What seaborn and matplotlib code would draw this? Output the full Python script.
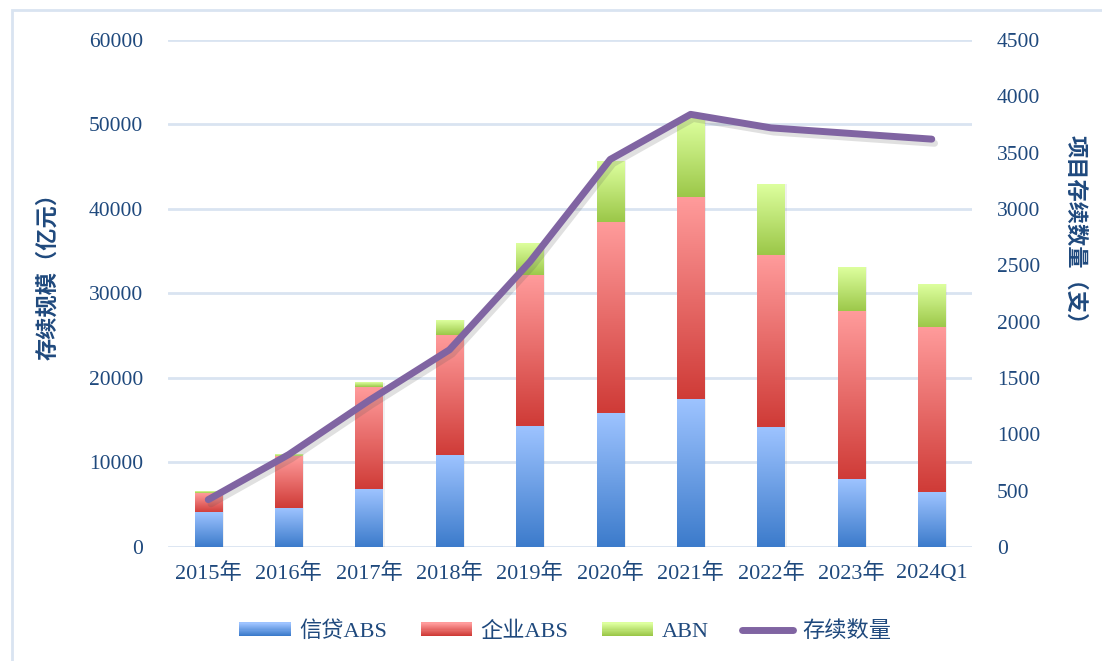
import numpy as np
import pandas as pd
import matplotlib
matplotlib.use("Agg")
import matplotlib.pyplot as plt
import seaborn as sns
from matplotlib.colors import LinearSegmentedColormap, to_rgb
from matplotlib.patches import Rectangle, Patch
from matplotlib.lines import Line2D
from matplotlib.legend_handler import HandlerPatch
import matplotlib.patheffects as pe

categories = ["2015年", "2016年", "2017年", "2018年", "2019年", "2020年",
              "2021年", "2022年", "2023年", "2024Q1"]
credit_abs = [4050, 4600, 6800, 10800, 14300, 15850, 17400, 14200, 7950, 6500]
corp_abs = [2350, 6100, 12100, 14300, 17800, 22600, 23950, 20350, 19900, 19450]
abn = [150, 300, 550, 1750, 3800, 7200, 9400, 8400, 5300, 5150]
count = [420, 820, 1300, 1750, 2530, 3440, 3840, 3720, 3670, 3620]
series_names = ["信贷ABS", "企业ABS", "ABN"]
line_name = "存续数量"

grads = {
    "信贷ABS": ("#9DC3FF", "#3C7BCB"),
    "企业ABS": ("#FF9B9B", "#CF3B37"),
    "ABN": ("#DDFF9E", "#9BC748"),
}
line_color = "#8064A2"
text_color = "#1F497D"
grid_color = "#D9E4F1"

sns.set_theme(style="white")
LATIN = ["Liberation Serif", "Noto Sans CJK SC", "DejaVu Sans"]
CJK = ["Noto Sans CJK SC", "DejaVu Sans"]
plt.rcParams["font.family"] = LATIN

n = len(categories)
cum1 = np.array(credit_abs, dtype=float)
cum2 = cum1 + np.array(corp_abs)
cum3 = cum2 + np.array(abn)
df = pd.DataFrame({
    "cat": categories * 3,
    "series": ["ABN"] * n + ["企业ABS"] * n + ["信贷ABS"] * n,
    "top": list(cum3) + list(cum2) + list(cum1),
    "bottom": list(cum2) + list(cum1) + [0.0] * n,
})

fig = plt.figure(figsize=(11.02, 6.61), dpi=100)
ax = fig.add_axes([0.1525, 0.1725, 0.882 - 0.1525, 0.9395 - 0.1725])
ax2 = ax.twinx()

width = 0.34
for s in ["ABN", "企业ABS", "信贷ABS"]:
    sub = df[df.series == s]
    sns.barplot(data=sub, x="cat", y="top", order=categories, ax=ax,
                width=width, color=grads[s][0], errorbar=None)

# Replace bars with vertical gradients segment by segment
patches = list(ax.patches)
order = ["ABN", "企业ABS", "信贷ABS"]
for k, s in enumerate(order):
    sub = df[df.series == s].reset_index(drop=True)
    light, dark = grads[s]
    cmap = LinearSegmentedColormap.from_list(s, [dark, light])
    for i in range(n):
        p = patches[k * n + i]
        x0 = p.get_x()
        w = p.get_width()
        top = p.get_height()
        bot = sub.loc[i, "bottom"]
        p.set_visible(False)
        # faint shadow
        ax.add_patch(Rectangle((x0 + 0.015, bot), w + 0.01, top - bot,
                               facecolor="#000000", alpha=0.06,
                               edgecolor="none", zorder=2))
        g = np.linspace(0, 1, 128).reshape(-1, 1)
        ax.imshow(g, extent=[x0, x0 + w, bot, top], origin="lower",
                  aspect="auto", cmap=cmap, zorder=3, interpolation="bilinear")

sns.lineplot(x=np.arange(n), y=count, ax=ax2, color=line_color, linewidth=5,
             solid_capstyle="round", solid_joinstyle="round",
             path_effects=[pe.SimpleLineShadow(offset=(2, -3), alpha=0.18, shadow_color="#555555"),
                           pe.Normal()])

ax.set_xlim(-0.5, n - 0.5)
ax.set_ylim(0, 60000)
ax2.set_ylim(0, 4500)
ax.set_yticks(np.arange(0, 60001, 10000))
ax2.set_yticks(np.arange(0, 4501, 500))
ax.set_xticks(np.arange(n))
ax.set_xticklabels(categories)

ax.set_axisbelow(True)
ax.grid(axis="y", color=grid_color, linewidth=2)
ax.grid(axis="x", visible=False)
ax2.grid(False)
for a in (ax, ax2):
    for sp in a.spines.values():
        sp.set_visible(False)
    a.tick_params(length=0, colors=text_color, labelsize=15.5)
ax.tick_params(axis="x", pad=12)
ax.tick_params(axis="y", pad=18)
ax2.tick_params(axis="y", pad=18)
for lab in ax.get_xticklabels():
    lab.set_fontfamily(LATIN)
    lab.set_fontsize(16)

ax.set_xlabel("")
ax.set_ylabel("存续规模（亿元）", fontfamily=CJK, fontsize=16, fontweight="bold",
              color=text_color)
ax.yaxis.set_label_coords(-0.136, 0.545)
ax2.set_ylabel("项目存续数量（支）", fontfamily=CJK, fontsize=16, fontweight="bold",
               color=text_color, rotation=-90)
ax2.yaxis.set_label_coords(1.143, 0.615)


class GradHandler(HandlerPatch):
    def __init__(self, light, dark):
        super().__init__()
        self.light = np.array(to_rgb(light))
        self.dark = np.array(to_rgb(dark))

    def create_artists(self, legend, orig_handle, xdescent, ydescent, width,
                       height, fontsize, trans):
        arts = []
        steps = 12
        h = height / steps
        for j in range(steps):
            t = j / (steps - 1)
            c = self.dark * (1 - t) + self.light * t
            r = Rectangle((-xdescent, -ydescent + j * h), width, h * 1.05,
                          facecolor=c, edgecolor="none", transform=trans)
            arts.append(r)
        return arts


handles = [Patch(label=s) for s in series_names]
hmap = {h: GradHandler(*grads[h.get_label()]) for h in handles}
line_h = Line2D([], [], color=line_color, linewidth=5, solid_capstyle="round", label=line_name)
leg = fig.legend(handles + [line_h], series_names + [line_name], handler_map=hmap,
                 loc="center", bbox_to_anchor=(0.513, 0.044), ncol=4, frameon=False,
                 prop={"family": LATIN, "size": 16}, handlelength=2.3,
                 handleheight=0.6, columnspacing=1.5, handletextpad=0.4)
for t in leg.get_texts():
    t.set_color(text_color)

fig.add_artist(Rectangle((12 / 1102, -0.01), 1.0, 1 - 10 / 661 + 0.01,
                         transform=fig.transFigure, fill=False,
                         edgecolor=grid_color, linewidth=2))

fig.savefig("out.png", dpi=100)
